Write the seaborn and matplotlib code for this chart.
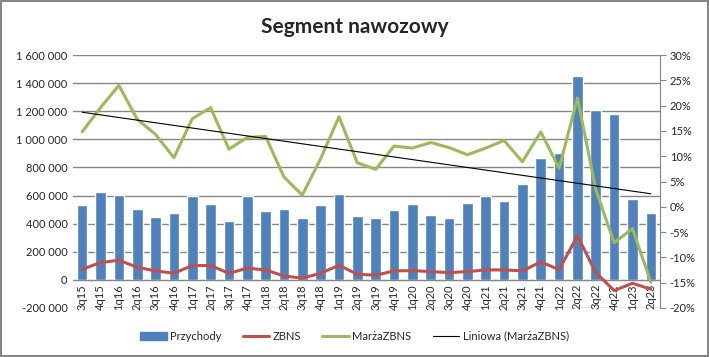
import numpy as np
import pandas as pd
import seaborn as sns
import matplotlib
matplotlib.use("Agg")
import matplotlib.pyplot as plt
from matplotlib.patches import Patch
from matplotlib.lines import Line2D
from matplotlib.ticker import FuncFormatter, MultipleLocator

# data
kwartaly = ["3q15", "4q15", "1q16", "2q16", "3q16", "4q16", "1q17", "2q17",
            "3q17", "4q17", "1q18", "2q18", "3q18", "4q18", "1q19", "2q19",
            "3q19", "4q19", "1q20", "2q20", "3q20", "4q20", "1q21", "2q21",
            "3q21", "4q21", "1q22", "2q22", "3q22", "4q22", "1q23", "2q23"]
przychody = [530000, 628000, 605000, 505000, 448000, 476000, 597000, 540000,
             420000, 597000, 490000, 505000, 441000, 533000, 612000, 457000,
             441000, 498000, 540000, 462000, 441000, 548000, 597000, 562000,
             683000, 867000, 903000, 1451000, 1209000, 1180000, 576000, 476000]
zbns = [76000, 123000, 140000, 90000, 64000, 47000, 102000, 102000,
        47000, 83000, 71000, 28000, 12000, 47000, 104000, 40000,
        33000, 64000, 66000, 59000, 52000, 59000, 71000, 71000,
        64000, 128000, 73000, 313000, 52000, -76000, -24000, -66000]
marza = [14.8, 19.6, 24.0, 17.3, 14.3, 9.7, 17.4, 19.6,
         11.4, 13.7, 13.9, 5.9, 2.3, 9.5, 17.8, 8.7,
         7.4, 12.0, 11.6, 12.7, 11.7, 10.3, 11.6, 13.1,
         8.9, 14.8, 7.6, 21.5, 3.4, -7.1, -4.3, -14.9]

df = pd.DataFrame({"kw": kwartaly, "Przychody": przychody, "ZBNS": zbns,
                   "MarzaZBNS": np.array(marza) / 100})
df["idx"] = np.arange(len(df))

sns.set_style("white")
plt.rcParams['font.family'] = ['Lato', 'DejaVu Sans']

blue = "#4F81BD"
red = "#C0504D"
green = "#9BBB59"
grey = "#868686"

fig = plt.figure(figsize=(7.09, 3.57), dpi=100)
fig.patch.set_edgecolor(grey)
fig.patch.set_linewidth(1.5)
ax = fig.add_axes([73 / 709, 1 - 308 / 357, 587 / 709, 253 / 357])

sns.barplot(data=df, x="kw", y="Przychody", color=blue, saturation=1,
            width=0.58, ax=ax, zorder=2)
sns.lineplot(data=df, x="idx", y="ZBNS", color=red, lw=2.2, ax=ax, zorder=3)

ax.set_xlim(-0.5, len(df) - 0.5)
ax.set_ylim(-200000, 1600000)
ax.yaxis.set_major_locator(MultipleLocator(200000))
ax.yaxis.set_major_formatter(FuncFormatter(lambda v, p: f"{int(v):,}".replace(",", " ")))
ax.yaxis.grid(True, color=grey, lw=1, zorder=0)
ax.set_axisbelow(True)
ax.get_ygridlines()[0].set_visible(False)
ax.set_xlabel("")
ax.set_ylabel("")
for s in ["top", "right", "left"]:
    ax.spines[s].set_visible(False)
ax.spines["bottom"].set_position(("data", 0))
ax.spines["bottom"].set_color(grey)
ax.tick_params(axis="x", length=0, labelsize=8, rotation=90, pad=3)
ax.tick_params(axis="y", length=0, labelsize=8, pad=4)

ax2 = ax.twinx()
sns.lineplot(data=df, x="idx", y="MarzaZBNS", color=green, lw=2.2, ax=ax2, zorder=4)
sns.regplot(data=df, x="idx", y="MarzaZBNS", scatter=False, ci=None, ax=ax2,
            color="black", line_kws={"lw": 0.8, "zorder": 5})
ax2.set_ylim(-0.20, 0.30)
ax2.yaxis.set_major_locator(MultipleLocator(0.05))
ax2.yaxis.set_major_formatter(FuncFormatter(lambda v, p: f"{round(v * 100)}%"))
ax2.set_xlim(-0.5, len(df) - 0.5)
ax2.set_ylabel("")
ax2.set_xlabel("")
for s in ["top", "left", "bottom"]:
    ax2.spines[s].set_visible(False)
ax2.spines["right"].set_color(grey)
ax2.tick_params(axis="y", length=4, color=grey, labelsize=8, pad=3)

fig.text(0.5, 1 - 27 / 357, "Segment nawozowy", ha="center", va="center",
         fontsize=15, fontweight="bold")

handles = [Patch(color=blue), Line2D([], [], color=red, lw=2.2),
           Line2D([], [], color=green, lw=2.2), Line2D([], [], color="black", lw=0.8)]
labels = ["Przychody", "ZBNS", "MarżaZBNS", "Liniowa (MarżaZBNS)"]
fig.legend(handles, labels, loc="center", bbox_to_anchor=(0.5, 1 - 336 / 357),
           ncol=4, frameon=False, fontsize=8, handlelength=2.4,
           handletextpad=0.3, columnspacing=1.9)

fig.savefig("out.png", dpi=100, edgecolor=fig.get_edgecolor())
